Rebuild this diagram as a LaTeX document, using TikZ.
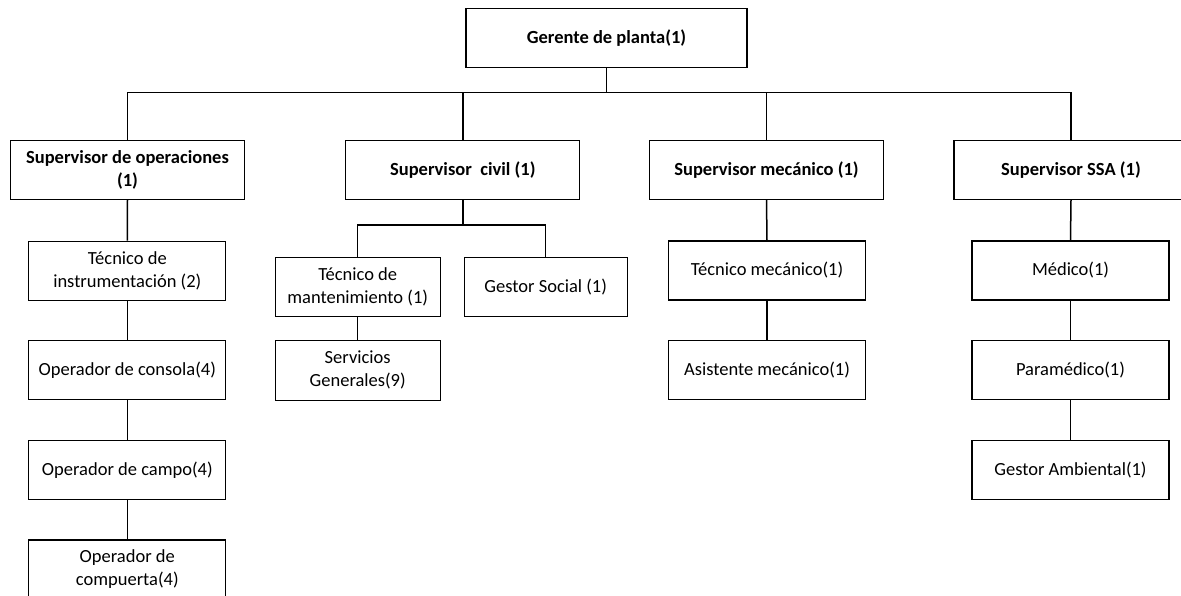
\documentclass[tikz,border=0pt]{standalone}
\usepackage{fontspec}
\setmainfont{Carlito}
\begin{document}
\begin{tikzpicture}[x=1pt,y=-1pt,
  box/.style={draw=black, line width=1.1pt, fill=white, align=center, inner sep=0pt,
    font=\fontsize{18.5}{23}\selectfont},
  head/.style={box, minimum width=234pt, minimum height=58.5pt,
    font=\fontsize{18.5}{23}\selectfont\bfseries},
  unit/.style={box, minimum width=197pt, minimum height=59pt},
  small/.style={box, minimum width=165pt, minimum height=59.4pt},
  link/.style={draw=black, line width=1.5pt}]
\clip (0,0) rectangle (1181,596);
\fill[white] (0,0) rectangle (1181,596);

% top level
\node[head, minimum width=281pt, minimum height=59.4pt] (gerente) at (606.5,38) {Gerente de planta(1)};

% supervisors
\node[head] (sops)   at (127.5,170.2)  {Supervisor de operaciones\\(1)};
\node[head] (scivil) at (462.8,170.2)  {Supervisor\ \ civil (1)};
\node[head] (smec)   at (766.5,170.2)  {Supervisor mecánico (1)};
\node[head] (sssa)   at (1071,170.2)   {Supervisor SSA (1)};

% operations staff
\node[unit] (tinst) at (127.3,270.6) {Técnico de\\instrumentación (2)};
\node[unit] (ocons) at (127.3,370.4) {Operador de consola(4)};
\node[unit] (ocamp) at (127.3,469.8) {Operador de campo(4)};
\node[unit] (ocomp) at (127.3,569.5) {Operador de\\compuerta(4)};

% civil staff
\node[small] (tmant)   at (357.7,287)   {Técnico de\\mantenimiento (1)};
\node[small, minimum width=163pt] (gsocial) at (545.7,287) {Gestor Social (1)};
\node[small] (servgen) at (357.7,370.4) {Servicios\\Generales(9)};

% mechanical staff
\node[unit] (tmec)  at (767,270.5) {Técnico mecánico(1)};
\node[unit] (asist) at (767,370.4) {Asistente mecánico(1)};

% SSA staff
\node[unit] (medico) at (1070.5,270.5) {Médico(1)};
\node[unit] (param)  at (1070.5,370.4) {Paramédico(1)};
\node[unit] (gamb)   at (1070.5,469.6) {Gestor Ambiental(1)};

% bus from the plant manager to the supervisors
\coordinate (bus) at (0,92.7);
\draw[link] (gerente.south) -- (gerente.south |- bus);
\draw[link] (sops.north) -- (sops.north |- bus) -- (sssa.north |- bus) -- (sssa.north);
\draw[link] (scivil.north) -- (scivil.north |- bus);
\draw[link] (smec.north) -- (smec.north |- bus);

% operations chain
\draw[link] (sops.south) -- (tinst.north);
\draw[link] (tinst.south) -- (ocons.north);
\draw[link] (ocons.south) -- (ocamp.north);
\draw[link] (ocamp.south) -- (ocomp.north);

% civil branch
\coordinate (bus2) at (0,225.2);
\draw[link] (scivil.south) -- (scivil.south |- bus2);
\draw[link] (tmant.north) -- (tmant.north |- bus2) -- (gsocial.north |- bus2) -- (gsocial.north);
\draw[link] (tmant.south) -- (servgen.north);

% mechanical chain
\draw[link] (smec.south) -- (tmec.north);
\draw[link] (tmec.south) -- (asist.north);

% SSA chain
\draw[link] (sssa.south) -- (medico.north);
\draw[link] (medico.south) -- (param.north);
\draw[link] (param.south) -- (gamb.north);
\end{tikzpicture}
\end{document}
